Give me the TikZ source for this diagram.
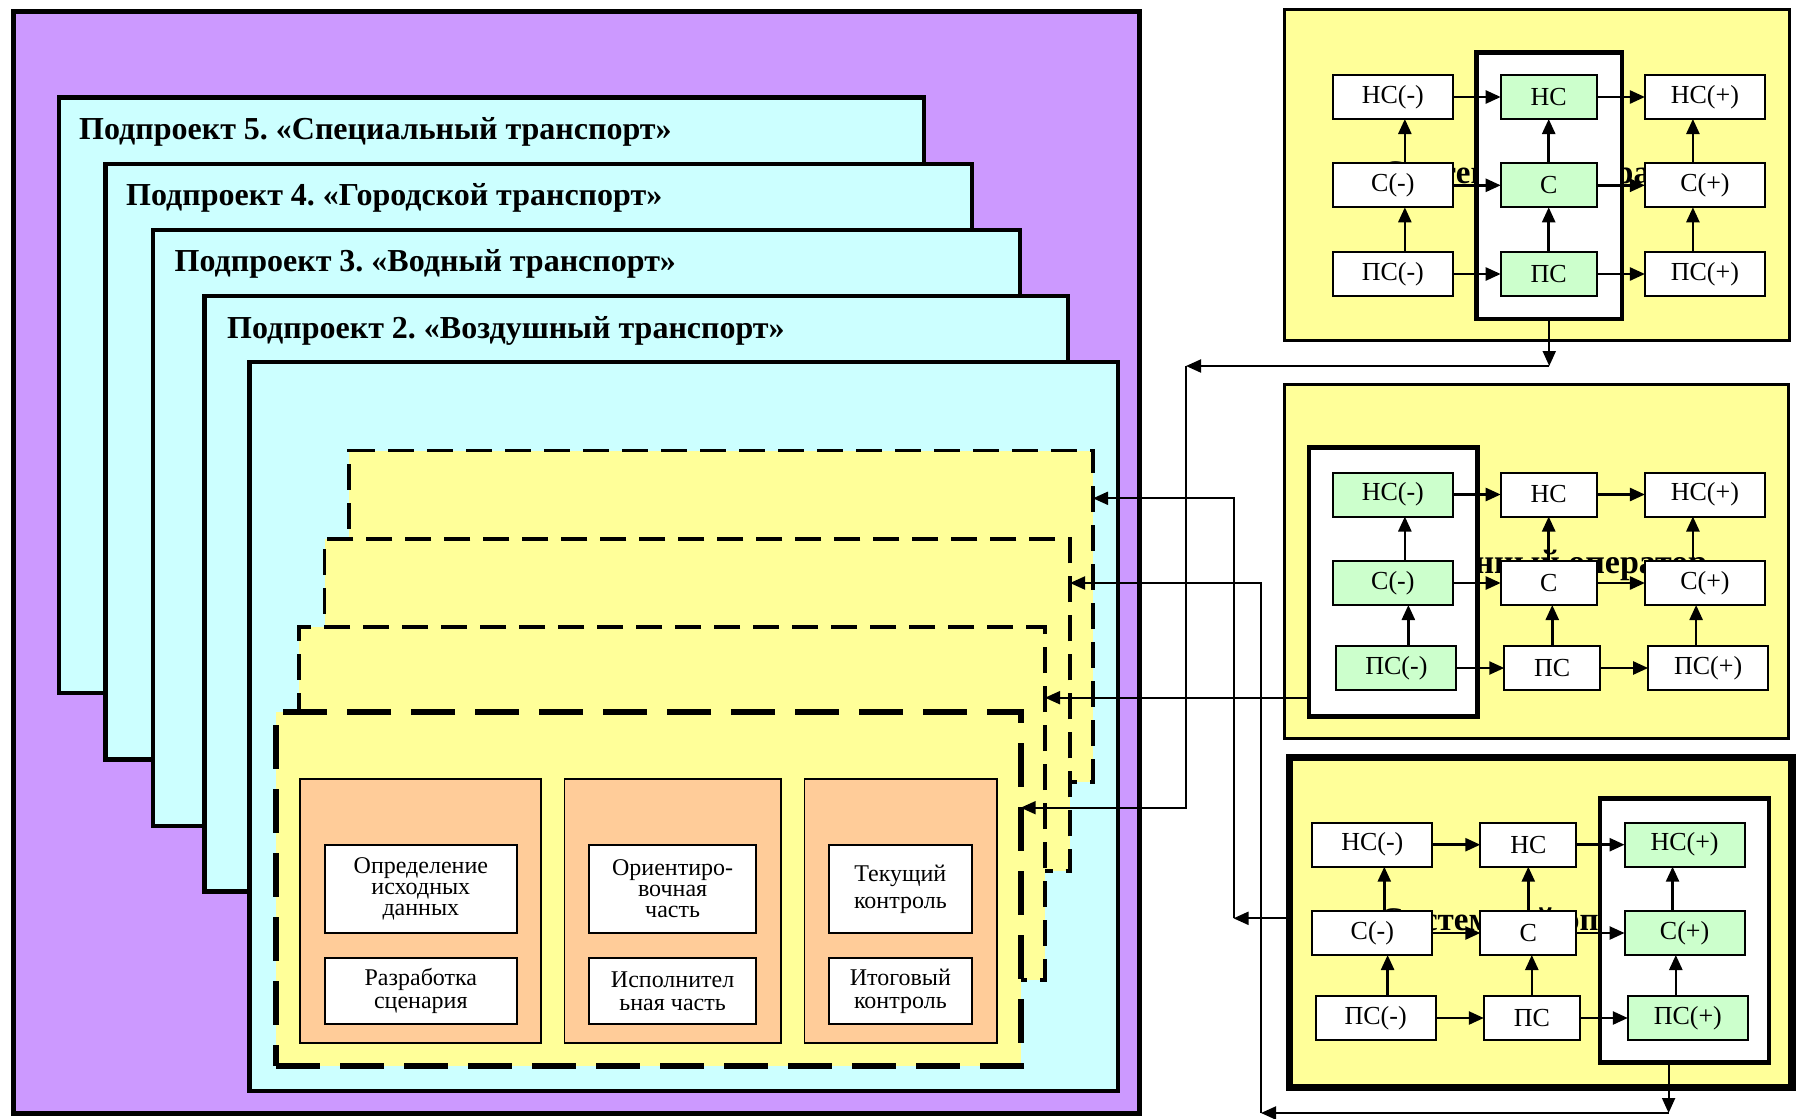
\documentclass[tikz,border=0pt]{standalone}
\usepackage{fontspec}
\setmainfont{Liberation Serif}
\usetikzlibrary{arrows.meta}
\definecolor{purp}{HTML}{CC99FF}
\definecolor{cyanb}{HTML}{CCFFFF}
\definecolor{yel}{HTML}{FFFF99}
\definecolor{orng}{HTML}{FFCC99}
\definecolor{grn}{HTML}{CCFFCC}
\frenchspacing
\begin{document}
\begin{tikzpicture}[x=1pt,y=-1pt,
 rect/.style={draw=black, inner sep=0pt, outer sep=0pt},
 sub/.style={rect, fill=cyanb, line width=4.5pt},
 dfr/.style={rect, fill=yel, line width=3.5pt, dash pattern=on 26pt off 13pt},
 dfrA/.style={rect, fill=yel, line width=6pt, dash pattern=on 44pt off 20pt},
 col/.style={rect, fill=orng, line width=1.5pt, minimum height=264pt},
 wbox/.style={rect, fill=white, line width=2pt, align=center, font=\fontsize{24}{23}\selectfont},
 wtop/.style={wbox, minimum height=88pt},
 wbot/.style={wbox, minimum height=66pt},
 title/.style={anchor=base west, inner sep=0pt, font=\bfseries\fontsize{32}{34}\selectfont},
 pan/.style={rect, fill=yel, line width=3pt},
 frm/.style={rect, fill=white, line width=4.5pt},
 sbox/.style={rect, fill=white, line width=2pt, minimum height=44pt, font=\fontsize{26}{28}\selectfont},
 sL/.style={sbox, minimum width=120pt},
 sM/.style={sbox, minimum width=96pt},
 gL/.style={sL, fill=grn},
 gM/.style={sM, fill=grn},
 arr/.style={line width=2.5pt, -{Triangle[length=15pt,width=13pt]}},
 conn/.style={line width=2pt, -{Triangle[length=15pt,width=13pt]}},
 ghost/.style={anchor=base west, inner sep=0pt, font=\bfseries\fontsize{33}{35}\selectfont}
]
\fill[white] (0,0) rectangle (1799,1119);
\useasboundingbox (0,0) rectangle (1799,1119);

% outer purple frame and sub-projects
\node[rect, fill=purp, line width=5pt, minimum width=1126pt, minimum height=1102pt] (outer) at (576,562) {};
\node[sub, minimum width=865pt, minimum height=595.4pt] (sub5) at (491.5,395.3) {};
\node[title] (t5) at (79,139.5) {Подпроект 5. «Специальный транспорт»};
\node[sub, minimum width=866.5pt, minimum height=595.5pt] (sub4) at (538.75,461.75) {};
\node[title] (t4) at (126,205) {Подпроект 4. «Городской транспорт»};
\node[sub, minimum width=867pt, minimum height=596pt] (sub3) at (586.5,528) {};
\node[title] (t3) at (174.5,271.7) {Подпроект 3. «Водный транспорт»};
\node[sub, minimum width=863.4pt, minimum height=595.5pt] (sub2) at (636.3,593.75) {};
\node[title] (t2) at (227,338.3) {Подпроект 2. «Воздушный транспорт»};
\node[sub, minimum width=868.5pt, minimum height=729pt] (sub1) at (683.75,726.5) {};

% dashed yellow frames
\node[dfr, minimum width=744.2pt, minimum height=331.3pt] (d4) at (720.9,616.35) {};
\node[dfr, minimum width=745.3pt, minimum height=332pt] (d3) at (697.35,705) {};
\node[dfr, minimum width=746pt, minimum height=353pt] (d2) at (672,803.5) {};
\node[dfrA, minimum width=744.7pt, minimum height=353.7pt] (d1) at (648.35,889.15) {};

% orange columns
\node[col, minimum width=241pt] (c1) at (420.5,911) {};
\node[col, minimum width=216.3pt] (c2) at (672.85,911) {};
\node[col, minimum width=192.4pt] (c3) at (900.8,911) {};
\node[wtop, minimum width=192.3pt, font=\fontsize{24}{21}\selectfont] (b11) at (420.85,889) {Определение\\исходных\\данных};
\node[wbot, minimum width=192.3pt] (b12) at (420.85,991) {Разработка\\сценария};
\node[wtop, minimum width=167.6pt, font=\fontsize{24}{21}\selectfont] (b21) at (672.6,889) {Ориентиро-\\вочная\\часть};
\node[wbot, minimum width=167.6pt] (b22) at (672.6,991) {Исполнител\\ьная часть};
\node[wtop, minimum width=143.3pt, font=\fontsize{24}{27}\selectfont] (b31) at (900.35,889) {Текущий\\контроль};
\node[wbot, minimum width=143.3pt] (b32) at (900.35,991) {Итоговый\\контроль};

% ---------- panel 1 ----------
\node[pan, minimum width=505pt, minimum height=331.4pt] (p1) at (1536.5,175) {};
\node[ghost] (g1) at (1382,183) {Системный оператор};
\node[frm, minimum width=145.5pt, minimum height=266.3pt] (p1in) at (1549.25,185.85) {};
\node[sL] (a1hm) at (1392.85,97) {НС(-)};
\node[gM] (a1h) at (1548.7,97) {НС};
\node[sL] (a1hp) at (1704.9,97) {НС(+)};
\node[sL] (a1cm) at (1392.85,185.3) {С(-)};
\node[gM] (a1c) at (1548.7,185.3) {С};
\node[sL] (a1cp) at (1704.9,185.3) {С(+)};
\node[sL] (a1pm) at (1392.85,274) {ПС(-)};
\node[gM] (a1p) at (1548.7,274) {ПС};
\node[sL] (a1pp) at (1704.9,274) {ПС(+)};
\foreach \r in {h,c,p}{
  \draw[arr] (a1\r m.east) -- (a1\r.west);
  \draw[arr] (a1\r.east) -- (a1\r p.west);
}
\draw[arr] ([xshift=12pt]a1cm.north) -- ([xshift=12pt]a1hm.south);
\draw[arr] ([xshift=12pt]a1pm.north) -- ([xshift=12pt]a1cm.south);
\draw[arr] (a1c.north) -- (a1h.south);
\draw[arr] (a1p.north) -- (a1c.south);
\draw[arr] ([xshift=-12pt]a1cp.north) -- ([xshift=-12pt]a1hp.south);
\draw[arr] ([xshift=-12pt]a1pp.north) -- ([xshift=-12pt]a1cp.south);

% ---------- panel 2 ----------
\node[pan, minimum width=503.8pt, minimum height=354.3pt] (p2) at (1536.1,561.15) {};
\node[ghost, font=\bfseries\fontsize{34}{36}\selectfont] (g2) at (1377,573) {Машинный оператор};
\node[frm, minimum width=168.7pt, minimum height=269.4pt] (p2in) at (1393.15,582) {};
\node[gL] (a2hm) at (1392.85,494.5) {НС(-)};
\node[sM] (a2h) at (1548.7,494.5) {НС};
\node[sL] (a2hp) at (1704.9,494.5) {НС(+)};
\node[gL] (a2cm) at (1392.85,583) {С(-)};
\node[sM] (a2c) at (1548.7,583) {С};
\node[sL] (a2cp) at (1704.9,583) {С(+)};
\node[gL] (a2pm) at (1396.35,668) {ПС(-)};
\node[sM] (a2p) at (1552.25,668) {ПС};
\node[sL] (a2pp) at (1708.1,668) {ПС(+)};
\foreach \r in {h,c,p}{
  \draw[arr] (a2\r m.east) -- (a2\r.west);
  \draw[arr] (a2\r.east) -- (a2\r p.west);
}
\draw[arr] ([xshift=12pt]a2cm.north) -- ([xshift=12pt]a2hm.south);
\draw[arr] ([xshift=12pt]a2pm.north) -- ([xshift=12pt]a2pm.north |- a2cm.south);
\draw[arr] (a2c.north) -- (a2h.south);
\draw[arr] (a2p.north) -- (a2p.north |- a2c.south);
\draw[arr] ([xshift=-12pt]a2cp.north) -- ([xshift=-12pt]a2hp.south);
\draw[arr] ([xshift=-12pt]a2pp.north) -- ([xshift=-12pt]a2pp.north |- a2cp.south);

% ---------- panel 3 ----------
\node[pan, line width=7.5pt, minimum width=502.7pt, minimum height=330pt] (p3) at (1540.65,922.5) {};
\node[ghost] (g3) at (1380,930) {Системный оператор};
\node[frm, minimum width=168.8pt, minimum height=264.4pt] (p3in) at (1684.4,930.5) {};
\node[sL] (a3hm) at (1372.3,844.7) {НС(-)};
\node[sM] (a3h) at (1528.3,844.7) {НС};
\node[gL] (a3hp) at (1684.55,844.7) {НС(+)};
\node[sL] (a3cm) at (1372.3,933) {С(-)};
\node[sM] (a3c) at (1528.3,933) {С};
\node[gL] (a3cp) at (1684.55,933) {С(+)};
\node[sL] (a3pm) at (1375.6,1018) {ПС(-)};
\node[sM] (a3p) at (1531.8,1018) {ПС};
\node[gL] (a3pp) at (1687.8,1018) {ПС(+)};
\foreach \r in {h,c,p}{
  \draw[arr] (a3\r m.east) -- (a3\r.west);
  \draw[arr] (a3\r.east) -- (a3\r p.west);
}
\draw[arr] ([xshift=12pt]a3cm.north) -- ([xshift=12pt]a3hm.south);
\draw[arr] ([xshift=12pt]a3pm.north) -- ([xshift=12pt]a3pm.north |- a3cm.south);
\draw[arr] (a3c.north) -- (a3h.south);
\draw[arr] (a3p.north) -- (a3p.north |- a3c.south);
\draw[arr] ([xshift=-12pt]a3cp.north) -- ([xshift=-12pt]a3hp.south);
\draw[arr] ([xshift=-12pt]a3pp.north) -- ([xshift=-12pt]a3pp.north |- a3cp.south);

% ---------- connectors ----------
\coordinate (cA1) at (1549.25,366);
\coordinate (cA2) at (1186,366);
\coordinate (yA) at (0,807.7);
\draw[conn] (p1in.south) -- (cA1);
\draw[conn] (cA1) -- (cA2);
\draw[conn] (cA2) |- (d1.east |- yA);

\coordinate (yB) at (0,918.3);
\coordinate (cB1) at (1233.5,918.3);
\coordinate (yB2) at (0,498.3);
\draw[conn] (p3.west |- yB) -- (cB1);
\draw[conn] (cB1) |- (d4.east |- yB2);

\coordinate (cC1) at (1668.6,1113);
\coordinate (cC2) at (1261,1113);
\coordinate (yC) at (0,583);
\draw[conn] (p3in.south -| cC1) -- (cC1);
\draw[conn] (cC1) -- (cC2);
\draw[conn] (cC2) |- (d3.east |- yC);

\coordinate (yD) at (0,697.7);
\draw[conn] (p2in.west |- yD) -- (d2.east |- yD);
\end{tikzpicture}
\end{document}
